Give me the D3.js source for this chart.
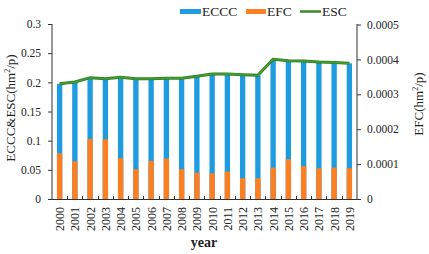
<!DOCTYPE html>
<html>
<head>
	<meta charset="utf-8">
	<title>ECCC EFC ESC</title>
	<script src="https://d3js.org/d3.v7.min.js"></script>
	<style>
		body { margin: 0; background: #fff; }
		text { font-family: 'Liberation Serif', 'Times New Roman', serif; fill: #222; }
	</style>
</head>
<body>
	<div class="chart"></div>

	<script type="text/javascript">

		// 数据
		var years = ['2000', '2001', '2002', '2003', '2004', '2005', '2006', '2007', '2008', '2009',
			'2010', '2011', '2012', '2013', '2014', '2015', '2016', '2017', '2018', '2019']
		var eccc = [0.1974, 0.2004, 0.2079, 0.2059, 0.2085, 0.2059, 0.2059, 0.2069, 0.2069, 0.2102,
			0.2142, 0.2142, 0.2129, 0.2119, 0.2394, 0.2369, 0.2365, 0.2348, 0.2339, 0.2325]
		var efc = [0.000131, 0.000108, 0.000172, 0.000171, 0.000117, 0.0000853, 0.000109, 0.000116, 0.0000853, 0.0000757,
			0.0000738, 0.0000785, 0.0000594, 0.0000594, 0.00009, 0.000114, 0.000094, 0.0000882, 0.00009, 0.0000882]
		var esc = [0.1975, 0.2005, 0.208, 0.206, 0.2086, 0.206, 0.206, 0.207, 0.207, 0.2103,
			0.2143, 0.2143, 0.213, 0.212, 0.2395, 0.237, 0.2366, 0.2349, 0.234, 0.2326]
		var leftTicks = [0, 0.05, 0.1, 0.15, 0.2, 0.25, 0.3]
		var rightTicks = [0, 0.0001, 0.0002, 0.0003, 0.0004, 0.0005]

		var width = 429
		var height = 254
		var pLeft = 52, pRight = 357, pTop = 24, pBottom = 199

		var svg = d3.select('.chart').append('svg')
			.attr('width', width).attr('height', height)

		var x = d3.scaleBand().domain(years).range([pLeft, pRight]).paddingInner(0.65).paddingOuter(0.325)
		var yL = d3.scaleLinear().domain([0, 0.3]).range([pBottom, pTop])
		var yR = d3.scaleLinear().domain([0, 0.0005]).range([pBottom, pTop + 0.5])

		// 柱子：ECCC（左轴）
		svg.append('g').selectAll('rect').data(eccc).enter().append('rect')
			.attr('x', (d, i) => x(years[i]))
			.attr('width', x.bandwidth())
			.attr('y', d => yL(d))
			.attr('height', d => pBottom - yL(d))
			.attr('fill', '#1f9ce0')

		// 柱子：EFC（右轴）
		svg.append('g').selectAll('rect').data(efc).enter().append('rect')
			.attr('x', (d, i) => x(years[i]))
			.attr('width', x.bandwidth())
			.attr('y', d => yR(d))
			.attr('height', d => pBottom - yR(d))
			.attr('fill', '#fd7f22')

		// ESC 折线
		var line = d3.line()
			.x((d, i) => x(years[i]) + x.bandwidth() / 2)
			.y(d => yL(d))
		svg.append('path').datum(esc)
			.attr('fill', 'none').attr('stroke', '#2f7d22').attr('stroke-width', 3)
			.attr('d', line)
		svg.append('path').datum(esc)
			.attr('fill', 'none').attr('stroke', '#43a032').attr('stroke-width', 1.4)
			.attr('d', line)

		// 左轴
		var axL = svg.append('g').attr('transform', `translate(${pLeft},0)`)
			.call(d3.axisLeft(yL).tickValues(leftTicks).tickFormat(d => d === 0 ? '0' : String(+d.toFixed(2))).tickSize(4).tickPadding(7))
		// 右轴
		var axR = svg.append('g').attr('transform', `translate(${pRight},0)`)
			.call(d3.axisRight(yR).tickValues(rightTicks).tickFormat(d => d === 0 ? '0' : d.toFixed(4)).tickSize(4).tickPadding(6))
		;[axL, axR].forEach(a => {
			a.select('.domain').attr('stroke', '#333').attr('d', `M0,${pBottom}V${pTop}`)
			a.selectAll('line').attr('stroke', '#333')
			a.selectAll('text').style('font-size', '11.5px').style('font-family', "'Liberation Serif', serif").attr('fill', '#222')
		})

		// x 轴
		var axX = svg.append('g')
		axX.append('line').attr('x1', pLeft).attr('x2', pRight).attr('y1', pBottom + 0.5).attr('y2', pBottom + 0.5).attr('stroke', '#333')
		axX.selectAll('.tk').data(years.slice(1)).enter().append('line')
			.attr('x1', d => Math.round(x(d) - x.step() * x.paddingInner() / 2) + 0.5)
			.attr('x2', d => Math.round(x(d) - x.step() * x.paddingInner() / 2) + 0.5)
			.attr('y1', pBottom).attr('y2', pBottom - 3).attr('stroke', '#333')
		axX.selectAll('text').data(years).enter().append('text')
			.attr('transform', d => `translate(${x(d) + x.bandwidth() / 2 + 4.5},207) rotate(-90)`)
			.attr('text-anchor', 'end')
			.style('font-size', '12px')
			.text(d => d)

		// 轴标题
		svg.append('text').attr('transform', 'translate(15,108) rotate(-90)')
			.attr('text-anchor', 'middle').style('font-size', '13px')
			.html('ECCC&amp;ESC(hm<tspan dy="-5" font-size="8">2</tspan><tspan dy="5">/p)</tspan>')
		svg.append('text').attr('transform', 'translate(423,104) rotate(-90)')
			.attr('text-anchor', 'middle').style('font-size', '13px')
			.html('EFC(hm<tspan dy="-5" font-size="8">2</tspan><tspan dy="5">/p)</tspan>')
		svg.append('text').attr('x', 204).attr('y', 247)
			.attr('text-anchor', 'middle').style('font-size', '14px').style('font-weight', 'bold')
			.text('year')

		// 图例
		var legend = svg.append('g')
		legend.append('rect').attr('x', 180).attr('y', 9).attr('width', 21).attr('height', 5).attr('fill', '#1f9ce0')
		legend.append('text').attr('x', 202).attr('y', 16).style('font-size', '13.5px').text('ECCC')
		legend.append('rect').attr('x', 246).attr('y', 9).attr('width', 20).attr('height', 5).attr('fill', '#fd7f22')
		legend.append('text').attr('x', 267).attr('y', 16).style('font-size', '13.5px').text('EFC')
		legend.append('line').attr('x1', 300).attr('x2', 321).attr('y1', 11.5).attr('y2', 11.5).attr('stroke', '#3a8a2a').attr('stroke-width', 2.5)
		legend.append('text').attr('x', 322).attr('y', 16).style('font-size', '13.5px').text('ESC')

	</script>
</body>
</html>
